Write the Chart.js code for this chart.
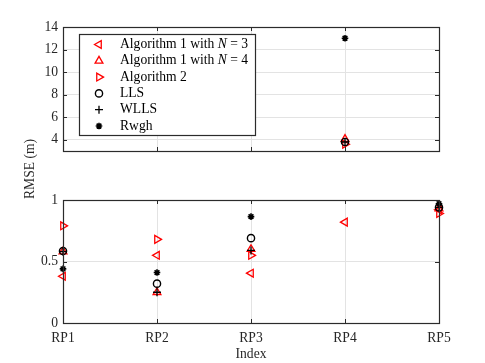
<!DOCTYPE html>
<html>
<head>
<meta charset="utf-8">
<script src="https://cdn.jsdelivr.net/npm/chart.js@4.4.1/dist/chart.umd.min.js"></script>
<style>
  html, body { margin: 0; padding: 0; background: #fff; }
  #wrap { position: relative; width: 485px; height: 363px; }
  #wrap canvas { position: absolute; left: 0; top: 0; }
</style>
</head>
<body>
<div id="wrap">
  <canvas id="topChart" width="485" height="363"></canvas>
  <canvas id="bottomChart" width="485" height="363"></canvas>
</div>
<script>
// ------------------------
// Data
// ------------------------
const categories = ['RP1', 'RP2', 'RP3', 'RP4', 'RP5'];
const alg1N3 = [0.38, 0.55, 0.405, 0.82, 0.92];
const alg1N4 = [0.58, 0.25, 0.60, 4.05, 0.93];
const alg2   = [0.79, 0.68, 0.55, 3.6, 0.89];
const lls    = [0.585, 0.32, 0.69, 3.8, 0.94];
const wlls   = [0.58, 0.25, 0.59, 3.8, 0.94];
const rwgh   = [0.44, 0.41, 0.865, 13.0, 0.97];

const topTicks = [4, 6, 8, 10, 12, 14];
const bottomTicks = [0, 0.5, 1];

const FONT = 'Liberation Serif';
const FSIZE = 13.6;
const AXIS = '#2b2b2b';
const GRID = '#e3e3e3';
const RED = '#ff0000';

// series look, MATLAB style markers
const series = [
    { label: 'Algorithm 1 with N = 3', data: alg1N3, color: RED, style: 'triangle', rot: -90, r: 4.5, w: 1.3 },
    { label: 'Algorithm 1 with N = 4', data: alg1N4, color: RED, style: 'triangle', rot: 0, r: 4.5, w: 1.3 },
    { label: 'Algorithm 2', data: alg2, color: RED, style: 'triangle', rot: 90, r: 4.5, w: 1.3 },
    { label: 'LLS', data: lls, color: '#000', style: 'circle', rot: 0, r: 3.6, w: 1.4 },
    { label: 'WLLS', data: wlls, color: '#000', style: 'cross', rot: 0, r: 4, w: 1.3 },
    { label: 'Rwgh', data: rwgh, color: '#000', style: 'star', rot: 0, r: 3.3, w: 1.6 }
];

const makeDatasets = (keep) => series.map((s, i) => ({
    label: s.label,
    data: s.data.map(v => keep(v) ? v : null),
    showLine: false,
    clip: false,
    order: series.length - i,
    pointStyle: s.style,
    pointRotation: s.rot,
    pointRadius: s.r,
    pointHoverRadius: s.r,
    pointBorderWidth: s.w,
    pointBorderColor: s.color,
    pointBackgroundColor: 'rgba(0,0,0,0)'
}));

// inner tick marks on all four sides (MATLAB box)
const innerTicks = {
    id: 'innerTicks',
    afterDraw(chart) {
        const { ctx, chartArea: a, scales } = chart;
        const len = 4;
        ctx.save();
        ctx.strokeStyle = AXIS;
        ctx.lineWidth = 1;
        ctx.beginPath();
        scales.y.ticks.forEach(t => {
            const y = Math.round(scales.y.getPixelForValue(t.value)) + 0.5;
            ctx.moveTo(a.left, y); ctx.lineTo(a.left + len, y);
            ctx.moveTo(a.right, y); ctx.lineTo(a.right - len, y);
        });
        categories.forEach((c, i) => {
            const x = Math.round(scales.x.getPixelForValue(i)) + 0.5;
            ctx.moveTo(x, a.bottom); ctx.lineTo(x, a.bottom - len);
            ctx.moveTo(x, a.top); ctx.lineTo(x, a.top + len);
        });
        ctx.stroke();
        ctx.lineWidth = 1.2;
        ctx.strokeRect(a.left + 0.5, a.top + 0.5, a.right - a.left, a.bottom - a.top);
        ctx.restore();
    }
};

// legend box inside the top panel + shared y title
const legendBox = {
    id: 'legendBox',
    afterDraw(chart) {
        const ctx = chart.ctx;
        ctx.save();
        ctx.fillStyle = '#fff';
        ctx.fillRect(79.5, 34.5, 176, 101);
        ctx.strokeStyle = AXIS;
        ctx.lineWidth = 1.2;
        ctx.strokeRect(79.5, 34.5, 176, 101);
        ctx.textBaseline = 'middle';
        ctx.textAlign = 'left';
        series.forEach((s, i) => {
            const y = 44.5 + i * 16.3;
            ctx.save();
            ctx.strokeStyle = s.color;
            ctx.fillStyle = 'rgba(0,0,0,0)';
            ctx.lineWidth = s.w;
            Chart.helpers.drawPoint(ctx, {
                pointStyle: s.style, rotation: s.rot, radius: s.r, borderWidth: s.w
            }, 99, y);
            ctx.restore();
            const parts = s.label.split(/(N)/);
            let x = 120;
            parts.forEach(p => {
                ctx.font = (p === 'N' ? 'italic ' : '') + FSIZE + 'px "' + FONT + '"';
                ctx.fillStyle = '#000';
                ctx.fillText(p, x, y);
                x += ctx.measureText(p).width;
            });
        });
        // y axis title spanning both panels
        ctx.translate(30, 169);
        ctx.rotate(-Math.PI / 2);
        ctx.textAlign = 'center';
        ctx.font = FSIZE + 'px "' + FONT + '"';
        ctx.fillStyle = '#262626';
        ctx.fillText('RMSE (m)', 0, 0);
        ctx.restore();
    }
};

const baseScales = (yMin, yMax, ticks) => ({
    x: {
        type: 'category',
        offset: false,
        grid: { color: GRID, drawTicks: false },
        border: { display: false },
        ticks: { display: false }
    },
    y: {
        min: yMin,
        max: yMax,
        afterBuildTicks: s => { s.ticks = ticks.map(v => ({ value: v })); },
        afterFit: s => { s.width = 63; },
        grid: { color: GRID, drawTicks: false },
        border: { display: false },
        ticks: {
            padding: 5,
            color: '#262626',
            font: { family: FONT, size: FSIZE },
            callback: v => String(v)
        }
    }
});

Chart.defaults.animation = false;
Chart.defaults.font.family = FONT;

// top panel (outlier range)
const topScales = baseScales(3, 14, topTicks);
topScales.x.afterFit = s => { s.height = 0; };
new Chart(document.getElementById('topChart'), {
    type: 'line',
    data: { labels: categories, datasets: makeDatasets(v => v >= 3) },
    options: {
        responsive: false,
        layout: { padding: { left: 0, right: 46, top: 27, bottom: 212 } },
        plugins: { legend: { display: false }, tooltip: { enabled: false } },
        scales: topScales
    },
    plugins: [innerTicks, legendBox]
});

// bottom panel (0..1)
const bottomScales = baseScales(0, 1, bottomTicks);
bottomScales.x.ticks = {
    display: true,
    padding: 7,
    maxRotation: 0,
    color: '#262626',
    font: { family: FONT, size: FSIZE }
};
bottomScales.x.title = {
    display: true,
    text: 'Index',
    color: '#262626',
    font: { family: FONT, size: FSIZE },
    padding: { top: 0, bottom: 0 }
};
bottomScales.x.afterFit = s => { s.height = 40; };
new Chart(document.getElementById('bottomChart'), {
    type: 'line',
    data: { labels: categories, datasets: makeDatasets(v => v <= 1) },
    options: {
        responsive: false,
        layout: { padding: { left: 0, right: 46, top: 200, bottom: 0 } },
        plugins: { legend: { display: false }, tooltip: { enabled: false } },
        scales: bottomScales
    },
    plugins: [innerTicks]
});
</script>
</body>
</html>
